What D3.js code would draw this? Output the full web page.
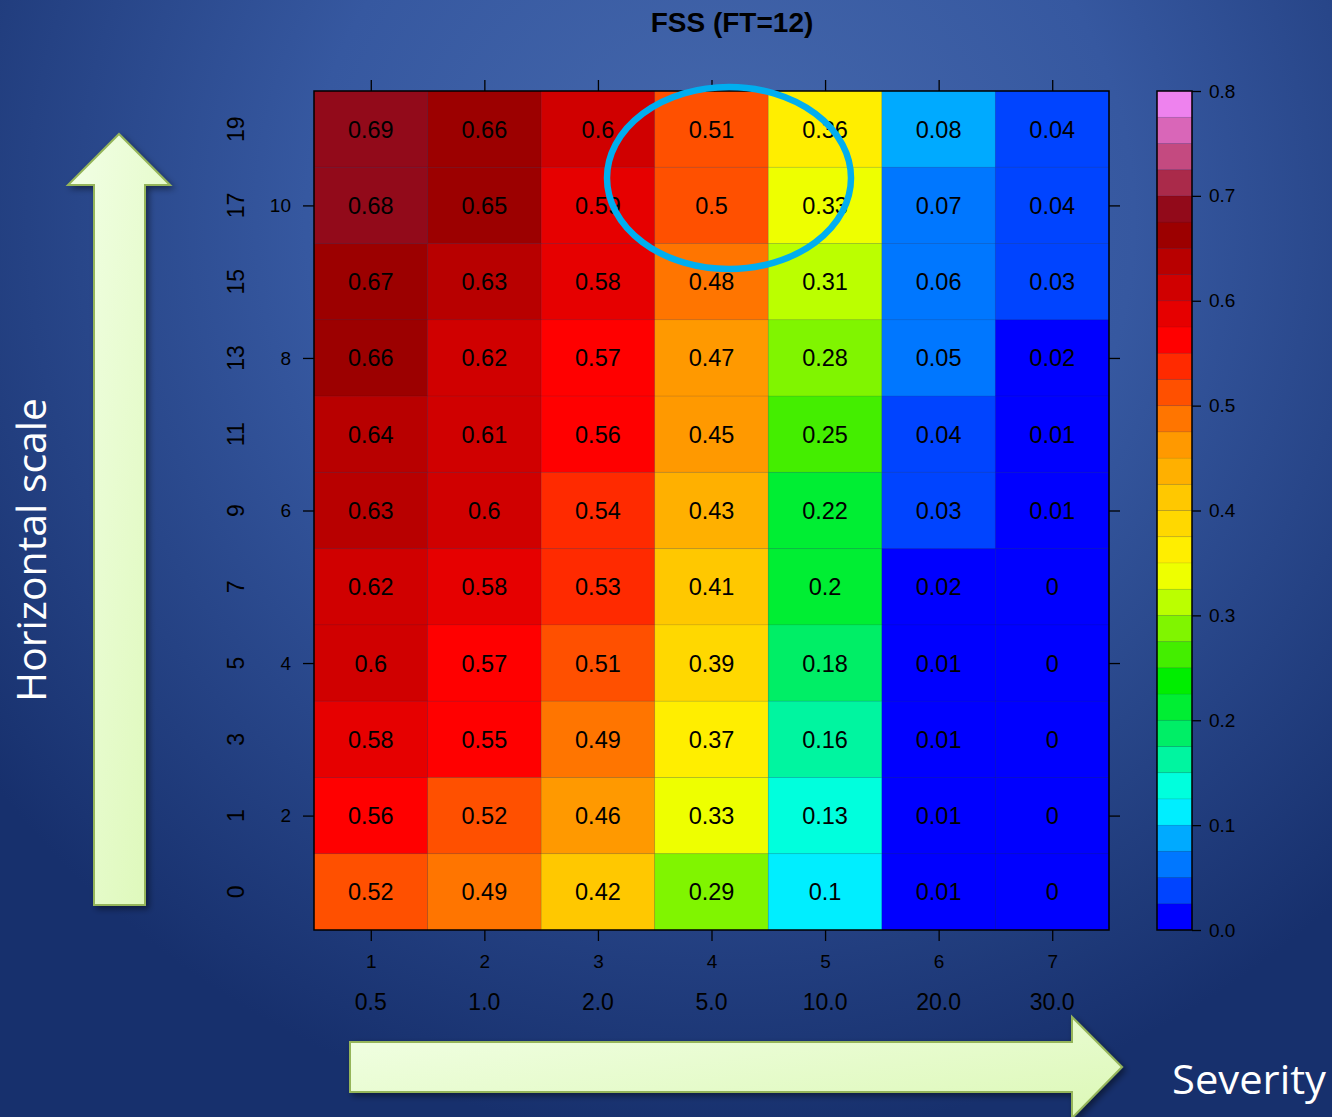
<!DOCTYPE html>
<html>
<head>
<meta charset="utf-8">
<script src="https://cdn.jsdelivr.net/npm/d3@7"></script>
<style>
  html, body { margin: 0; padding: 0; background: #2a4a90; }
  svg { display: block; }
</style>
</head>
<body>
<script>
// Severity thresholds along x (column index and threshold value)
const colIndex = [1, 2, 3, 4, 5, 6, 7];
const severity = ["0.5", "1.0", "2.0", "5.0", "10.0", "20.0", "30.0"];
// Horizontal scale (grid points), top row first
const scaleLabels = ["19", "17", "15", "13", "11", "9", "7", "5", "3", "1", "0"];
// Inner y-axis ticks (row number, 1 = bottom)
const rowTicks = [2, 4, 6, 8, 10];
// FSS values, one array per row (top to bottom), columns 1..7
const fss19 = [0.69, 0.66, 0.6, 0.51, 0.36, 0.08, 0.04];
const fss17 = [0.68, 0.65, 0.59, 0.5, 0.33, 0.07, 0.04];
const fss15 = [0.67, 0.63, 0.58, 0.48, 0.31, 0.06, 0.03];
const fss13 = [0.66, 0.62, 0.57, 0.47, 0.28, 0.05, 0.02];
const fss11 = [0.64, 0.61, 0.56, 0.45, 0.25, 0.04, 0.01];
const fss9  = [0.63, 0.6, 0.54, 0.43, 0.22, 0.03, 0.01];
const fss7  = [0.62, 0.58, 0.53, 0.41, 0.2, 0.02, 0];
const fss5  = [0.6, 0.57, 0.51, 0.39, 0.18, 0.01, 0];
const fss3  = [0.58, 0.55, 0.49, 0.37, 0.16, 0.01, 0];
const fss1  = [0.56, 0.52, 0.46, 0.33, 0.13, 0.01, 0];
const fss0  = [0.52, 0.49, 0.42, 0.29, 0.1, 0.01, 0];
const fssRows = [fss19, fss17, fss15, fss13, fss11, fss9, fss7, fss5, fss3, fss1, fss0];
// Colour key ticks
const keyTicks = [0, 0.1, 0.2, 0.3, 0.4, 0.5, 0.6, 0.7, 0.8];
// 32 colour bins of width 0.025, from 0.0 upward
const palette = [
  "#0000ff", "#0044ff", "#0077ff", "#00aaff", "#00eeff", "#00ffdd", "#00f5a0", "#00ee66",
  "#00ee33", "#00ee00", "#44ee00", "#80f500", "#bbff00", "#eeff00", "#ffee00", "#ffd800",
  "#ffc800", "#ffb000", "#ff9900", "#ff7500", "#ff5000", "#ff2a00", "#ff0000", "#e60000",
  "#d00000", "#b80000", "#9c0000", "#920a1a", "#aa2a4a", "#c44a80", "#d966b8", "#ee82ee"
];

const W = 1332, H = 1117;
const plot = { left: 314, right: 1109, top: 91, bottom: 930 };
const key = { left: 1157, right: 1192 };
const font = "'Liberation Sans', Arial, Helvetica, sans-serif";

const svg = d3.select("body").append("svg").attr("width", W).attr("height", H);
const defs = svg.append("defs");

// Slide background
const bg = defs.append("radialGradient").attr("id", "bg")
  .attr("gradientUnits", "userSpaceOnUse").attr("cx", 720).attr("cy", 220).attr("r", 920);
bg.append("stop").attr("offset", 0).attr("stop-color", "#4669ad");
bg.append("stop").attr("offset", 0.45).attr("stop-color", "#3658a0");
bg.append("stop").attr("offset", 1).attr("stop-color", "#17306d");
svg.append("rect").attr("width", W).attr("height", H).attr("fill", "url(#bg)");

// Arrow fill and shadow
const ag = defs.append("linearGradient").attr("id", "arrowFill").attr("x1", 0).attr("y1", 0).attr("x2", 1).attr("y2", 1);
ag.append("stop").attr("offset", 0).attr("stop-color", "#f2ffe6");
ag.append("stop").attr("offset", 1).attr("stop-color", "#dcf8b6");
const sh = defs.append("filter").attr("id", "shadow").attr("x", -0.2).attr("y", -0.2).attr("width", 1.4).attr("height", 1.4);
sh.append("feDropShadow").attr("dx", 3).attr("dy", 3).attr("stdDeviation", 3)
  .attr("flood-color", "#000").attr("flood-opacity", 0.45);

// Scales
const x = d3.scaleBand().domain(colIndex).range([plot.left, plot.right]);
const y = d3.scaleBand().domain(scaleLabels).range([plot.top, plot.bottom]);
const yRow = d3.scaleLinear().domain([0.5, scaleLabels.length + 0.5]).range([plot.bottom, plot.top]);
const thresholds = d3.range(1, palette.length).map(i => i / 40);
const color = d3.scaleThreshold().domain(thresholds).range(palette);
const yKey = d3.scaleLinear().domain([0, 0.8]).range([plot.bottom, plot.top]);

// Title
svg.append("text").attr("x", 732).attr("y", 32).attr("text-anchor", "middle")
  .attr("font-family", font).attr("font-weight", "bold").attr("font-size", 28)
  .attr("fill", "#000").text("FSS (FT=12)");

// Heatmap cells
const cells = [];
fssRows.forEach((row, r) => row.forEach((v, c) => cells.push({ row: scaleLabels[r], col: colIndex[c], v })));

const g = svg.append("g");
g.selectAll("rect.cell").data(cells).join("rect").attr("class", "cell")
  .attr("x", d => x(d.col)).attr("y", d => y(d.row))
  .attr("width", x.bandwidth()).attr("height", y.bandwidth())
  .attr("fill", d => color(d.v))
  .attr("stroke", "rgba(0,0,0,0.06)").attr("stroke-width", 1);

g.selectAll("text.val").data(cells).join("text").attr("class", "val")
  .attr("x", d => x(d.col) + x.bandwidth() / 2)
  .attr("y", d => y(d.row) + y.bandwidth() / 2)
  .attr("dy", "0.36em").attr("text-anchor", "middle")
  .attr("font-family", font).attr("font-size", 23.5).attr("fill", "#000")
  .text(d => d3.format("~g")(d.v));

// Plot frame
svg.append("rect").attr("x", plot.left).attr("y", plot.top)
  .attr("width", plot.right - plot.left).attr("height", plot.bottom - plot.top)
  .attr("fill", "none").attr("stroke", "#000").attr("stroke-width", 1.5);

function styleAxis(sel, size) {
  sel.attr("font-size", null).attr("font-family", null);
  sel.select(".domain").remove();
  sel.selectAll(".tick line").attr("stroke", "#000").attr("stroke-width", 1.3);
  sel.selectAll(".tick text").attr("fill", "#000").attr("font-family", font).attr("font-size", size);
}

// Bottom axis: column index
const xc = d3.scalePoint().domain(colIndex).range([x(1) + x.bandwidth() / 2, x(7) + x.bandwidth() / 2]);
svg.append("g").attr("transform", `translate(0,${plot.bottom})`)
  .call(d3.axisBottom(xc).tickSize(11).tickPadding(14)).call(s => styleAxis(s, 19));
// Top axis: ticks only
svg.append("g").attr("transform", `translate(0,${plot.top})`)
  .call(d3.axisTop(xc).tickSize(11).tickFormat("")).call(s => styleAxis(s, 19));

// Severity thresholds under the column numbers
svg.append("g").selectAll("text").data(colIndex).join("text")
  .attr("x", d => xc(d)).attr("y", 1010).attr("text-anchor", "middle")
  .attr("font-family", font).attr("font-size", 23).attr("fill", "#000")
  .text((d, i) => severity[i]);

// Left inner axis (row numbers) and right ticks
svg.append("g").attr("transform", `translate(${plot.left},0)`)
  .call(d3.axisLeft(yRow).tickValues(rowTicks).tickSize(11).tickPadding(12)).call(s => styleAxis(s, 19));
svg.append("g").attr("transform", `translate(${plot.right},0)`)
  .call(d3.axisRight(yRow).tickValues(rowTicks).tickSize(11).tickFormat("")).call(s => styleAxis(s, 19));

// Outer rotated horizontal-scale labels
svg.append("g").selectAll("text").data(scaleLabels).join("text")
  .attr("transform", d => `translate(244,${y(d) + y.bandwidth() / 2}) rotate(-90)`)
  .attr("text-anchor", "middle")
  .attr("font-family", font).attr("font-size", 23).attr("fill", "#000")
  .text(d => d);

// Colour key
const keyBins = palette.map((c, i) => ({ lo: i / 40, hi: (i + 1) / 40 }));
svg.append("g").selectAll("rect").data(keyBins).join("rect")
  .attr("x", key.left).attr("width", key.right - key.left)
  .attr("y", d => yKey(d.hi)).attr("height", d => yKey(d.lo) - yKey(d.hi))
  .attr("fill", d => color(d.lo))
  .attr("stroke", "rgba(0,0,0,0.05)").attr("stroke-width", 1);
svg.append("rect").attr("x", key.left).attr("y", yKey(0.8))
  .attr("width", key.right - key.left).attr("height", yKey(0) - yKey(0.8))
  .attr("fill", "none").attr("stroke", "#000").attr("stroke-width", 1.5);
svg.append("g").attr("transform", `translate(${key.right},0)`)
  .call(d3.axisRight(yKey).tickValues(keyTicks).tickSize(9).tickPadding(8).tickFormat(d3.format(".1f")))
  .call(s => styleAxis(s, 19));

// Highlight ellipse
svg.append("ellipse").attr("cx", 729).attr("cy", 178).attr("rx", 122).attr("ry", 91)
  .attr("fill", "none").attr("stroke", "#00aeef").attr("stroke-width", 6.5);

// Direction arrows
const upArrow = "M119,134 L170,185 L145,185 L145,905 L94,905 L94,185 L68,185 Z";
const rightArrow = "M350,1042 L1072,1042 L1072,1017 L1122,1067 L1072,1118 L1072,1092 L350,1092 Z";
[upArrow, rightArrow].forEach(p => {
  svg.append("path").attr("d", p).attr("fill", "url(#arrowFill)")
    .attr("stroke", "#95b55a").attr("stroke-width", 2).attr("stroke-linejoin", "miter")
    .attr("filter", "url(#shadow)");
});

// Axis captions
svg.append("text")
  .attr("transform", "translate(46,550) rotate(-90)")
  .attr("text-anchor", "middle")
  .attr("font-family", "'Open Sans', sans-serif").attr("font-size", 40).attr("fill", "#fff")
  .attr("textLength", 304).attr("lengthAdjust", "spacingAndGlyphs")
  .text("Horizontal scale");
svg.append("text")
  .attr("x", 1172).attr("y", 1094)
  .attr("font-family", "'Open Sans', sans-serif").attr("font-size", 40).attr("fill", "#fff")
  .attr("textLength", 154).attr("lengthAdjust", "spacingAndGlyphs")
  .text("Severity");
</script>
</body>
</html>
